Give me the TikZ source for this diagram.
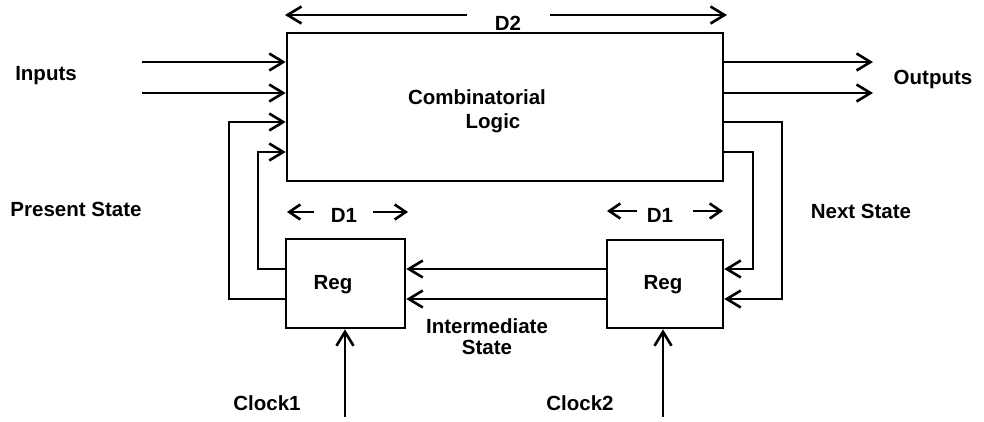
\documentclass[tikz,border=0pt]{standalone}
\usepackage{fontspec}
\setmainfont{Liberation Sans}
\usetikzlibrary{arrows.meta}
\tikzset{
  lbl/.style={font=\bfseries\fontsize{20.5}{22}\selectfont, inner sep=0pt, anchor=center},
  wire/.style={line width=2.6pt},
  arr/.style={wire, -{Straight Barb[length=14pt,width=17pt,line width=2.6pt]}},
  darr/.style={wire, -{Straight Barb[length=11pt,width=15pt,line width=2.6pt]}},
  box/.style={draw, line width=2.6pt, inner sep=0pt}
}
\begin{document}
\begin{tikzpicture}[x=1pt,y=-1pt]
\useasboundingbox (0,0) rectangle (984,421);
% boxes
\node[box, minimum width=436pt, minimum height=148pt] (logic) at (505,107) {};
\node[box, minimum width=119pt, minimum height=89pt] (reg1) at (345.5,283.5) {};
\node[box, minimum width=116pt, minimum height=88pt] (reg2) at (665,284) {};
% texts
\node[lbl] (tcomb) at (477,97) {Combinatorial};
\node[lbl] (tlogic) at (493,123) {Logic};
\node[lbl] (treg1) at (333,285) {Reg};
\node[lbl] (treg2) at (663,285) {Reg};
\node[lbl] (tin) at (46,76) {Inputs};
\node[lbl] (tout) at (933,79) {Outputs};
\node[lbl] (tps) at (76,209) {Present State};
\node[lbl] (tns) at (861,211) {Next State};
\node[lbl, align=center, font=\bfseries\fontsize{20.5}{21}\selectfont] (tis) at (487,337) {Intermediate\\State};
\node[lbl] (tc1) at (267,403) {Clock1};
\node[lbl] (tc2) at (580,403) {Clock2};
\node[lbl] (td2) at (508,23) {D2};
\node[lbl] (td1a) at (344,215) {D1};
\node[lbl] (td1b) at (660,215) {D1};
% coordinates
\coordinate (in1) at (142,62);
\coordinate (in2) at (142,93);
\coordinate (out1) at (873,62);
\coordinate (out2) at (873,93);
\coordinate (ck1) at (345,417);
\coordinate (ck2) at (663,417);
\coordinate (lo) at (229,122);
\coordinate (li) at (258,152);
\coordinate (ro) at (782,122);
\coordinate (ri) at (753,152);
\coordinate (ya) at (0,269);
\coordinate (yb) at (0,299);
% inputs / outputs
\draw[arr] (in1) -- (in1 -| logic.west);
\draw[arr] (in2) -- (in2 -| logic.west);
\draw[arr] (logic.east |- out1) -- (out1);
\draw[arr] (logic.east |- out2) -- (out2);
% present state feedback
\draw[arr] (reg1.west |- yb) -| (lo) -- (lo -| logic.west);
\draw[arr] (reg1.west |- ya) -| (li) -- (li -| logic.west);
% next state
\draw[arr] (logic.east |- ri) -| (ri |- ya) -- (reg2.east |- ya);
\draw[arr] (logic.east |- ro) -| (ro |- yb) -- (reg2.east |- yb);
% intermediate state
\draw[arr] (reg2.west |- ya) -- (reg1.east |- ya);
\draw[arr] (reg2.west |- yb) -- (reg1.east |- yb);
% clocks
\draw[arr] (ck1) -- (ck1 |- reg1.south);
\draw[arr] (ck2) -- (ck2 |- reg2.south);
% D2
\coordinate (d2l) at (285,15);
\coordinate (d2r) at (727,15);
\draw[arr] (467,15) -- (d2l);
\draw[arr] (550,15) -- (d2r);
% D1
\draw[darr] (314,212) -- (287,212);
\draw[darr] (373,212) -- (408,212);
\draw[darr] (637,211) -- (607,211);
\draw[darr] (693,211) -- (723,211);
\end{tikzpicture}
\end{document}
